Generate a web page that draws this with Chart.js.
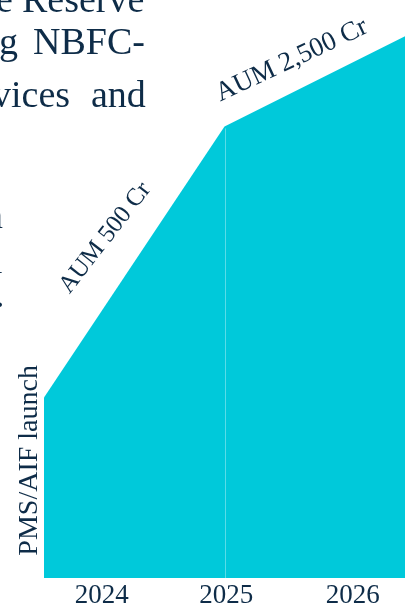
<!DOCTYPE html>
<html>
<head>
<meta charset="utf-8">
<script src="https://cdn.jsdelivr.net/npm/chart.js@4/dist/chart.umd.min.js"></script>
<style>
  html, body { margin: 0; padding: 0; background: #fff; }
  #wrap { position: relative; width: 413px; height: 605px; overflow: hidden; }
  #chartBox { position: absolute; left: 0; top: 0; width: 413px; height: 605px; }
  .txt { position: absolute; font-family: 'Liberation Serif', serif; font-size: 38px; line-height: 38px; color: #0e2c48; white-space: nowrap; }
</style>
</head>
<body>
<div id="wrap">
  <div id="chartBox"><canvas id="aumChart"></canvas></div>
  <!-- fragments of the surrounding page text -->
  <span class="txt" style="left:-4px; top:-20px;">e</span>
  <span class="txt" style="left:22px; top:-20px;">Reserve</span>
  <span class="txt" style="left:-1px; top:22px;">g</span>
  <span class="txt" style="left:33px; top:22px;">NBFC-</span>
  <span class="txt" style="left:-8px; top:75px;">vices</span>
  <span class="txt" style="left:91px; top:75px;">and</span>
  <span class="txt" style="left:-16px; top:196px;">n</span>
  <span class="txt" style="left:-8px; top:241px;">l</span>
  <span class="txt" style="left:-5px; top:275px;">.</span>
</div>
<script>
// milestones on the growth path (arbitrary growth units)
const stepX = [0, 1, 2];
const stepValues = [1.0, 2.5, 3.0];
const yMax = 3.2;

// year tick labels and where they sit along the path
const yearLabels = ['2024', '2025', '2026'];
const yearTicks = [0.32, 1.01, 1.71];

// milestone notes
const noteTexts = ['PMS/AIF launch', 'AUM 500 Cr', 'AUM 2,500 Cr'];

const navy = '#0e2c48';
const cyan = 'rgb(0, 201, 218)';
const serif = "'Liberation Serif', serif";

// where each note goes relative to the path (pixel offsets, rotation in degrees)
const notePlace = [
    { a: 0, b: 0, dx: -14, dy: 63, angle: -90, size: 28 },
    { a: 0, b: 1, dx: -29, dy: -24, angle: -52, size: 25 },
    { a: 1, b: 2, dx: -23, dy: -21, angle: -25, size: 27 }
];

const notesPlugin = {
    id: 'notes',
    afterDatasetsDraw(chart) {
        const ctx = chart.ctx;
        const pts = chart.getDatasetMeta(0).data;
        const area = chart.chartArea;

        // faint divider under the middle milestone
        const mid = pts[1];
        ctx.save();
        ctx.strokeStyle = 'rgba(255,255,255,0.35)';
        ctx.lineWidth = 1;
        ctx.beginPath();
        ctx.moveTo(Math.round(mid.x) + 0.5, mid.y + 2);
        ctx.lineTo(Math.round(mid.x) + 0.5, area.bottom);
        ctx.stroke();
        ctx.restore();

        notePlace.forEach((p, i) => {
            const pa = pts[p.a], pb = pts[p.b];
            const cx = (pa.x + pb.x) / 2 + p.dx;
            const cy = (pa.y + pb.y) / 2 + p.dy;
            ctx.save();
            ctx.translate(cx, cy);
            ctx.rotate(p.angle * Math.PI / 180);
            ctx.font = p.size + 'px ' + serif;
            ctx.fillStyle = navy;
            ctx.textAlign = 'center';
            ctx.textBaseline = 'middle';
            ctx.fillText(noteTexts[i], 0, 0);
            ctx.restore();
        });
    }
};

const ctx = document.getElementById('aumChart').getContext('2d');

const aumChart = new Chart(ctx, {
    type: 'line',
    data: {
        datasets: [{
            data: stepX.map((x, i) => ({ x: x, y: stepValues[i] })),
            fill: 'origin',
            backgroundColor: cyan,
            borderWidth: 0,
            pointRadius: 0,
            tension: 0
        }]
    },
    options: {
        responsive: true,
        maintainAspectRatio: false,
        animation: false,
        layout: { padding: { left: 44, right: 8, top: 0, bottom: 0 } },
        plugins: { legend: { display: false }, tooltip: { enabled: false } },
        scales: {
            x: {
                type: 'linear',
                min: 0,
                max: 2,
                grid: { display: false, drawTicks: false },
                border: { display: false },
                afterBuildTicks(scale) {
                    scale.ticks = yearTicks.map(v => ({ value: v }));
                },
                afterFit(scale) {
                    scale.height = 27;
                },
                ticks: {
                    autoSkip: false,
                    maxRotation: 0,
                    padding: 2,
                    color: navy,
                    font: { family: serif, size: 27 },
                    callback: (v, i) => yearLabels[i]
                }
            },
            y: {
                display: false,
                min: 0,
                max: yMax
            }
        }
    },
    plugins: [notesPlugin]
});
</script>
</body>
</html>
